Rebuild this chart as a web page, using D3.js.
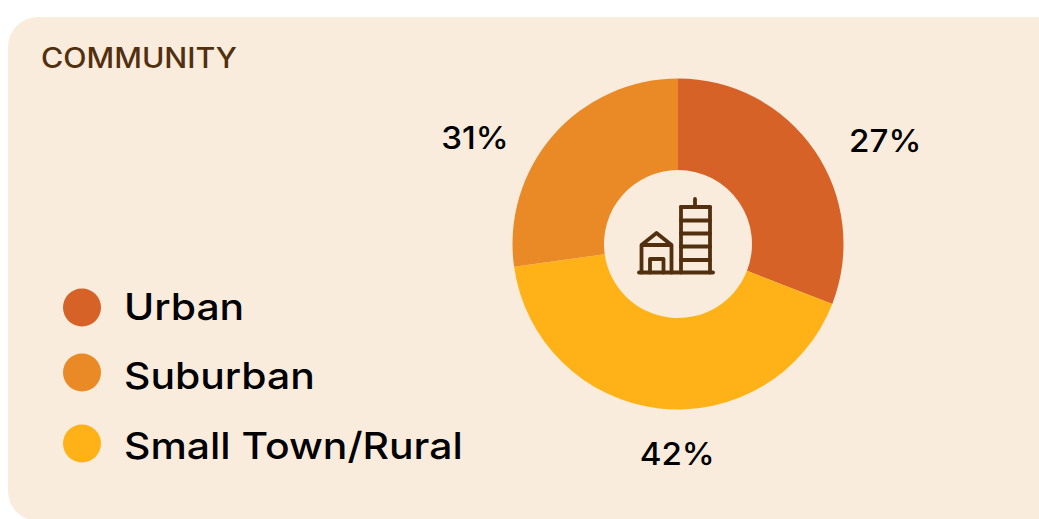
<!DOCTYPE html>
<meta charset="utf-8" />
<script src="https://d3js.org/d3.v7.min.js"></script>

<body style="margin:0;background:#fff;overflow:hidden">
<svg id="chart" width="1039" height="519" style="display:block"></svg>

<script>
/* data: the slice sizes do not follow the printed labels */
const categories = ["Urban", "Suburban", "Small Town/Rural"];
const sliceOrder = ["Urban", "Small Town/Rural", "Suburban"];
const sliceValues = [30.9, 41.9, 27.2];
const sliceLabels = ["27%", "42%", "31%"];
const colours = ["#d66227", "#ea8a26", "#ffb217"];

const font = "Inter, 'Open Sans', sans-serif";
const cx = 678, cy = 244, outerR = 165.5, innerR = 74;
const wide = 1.105;                 // no Montserrat here, so stretch Inter to its width

const colour = d3.scaleOrdinal(categories, colours);
const svg = d3.select("#chart");

/* card runs off the right edge */
svg.append("rect").attr("x", 8).attr("y", 17).attr("width", 1100).attr("height", 504)
  .attr("rx", 30).attr("fill", "#faecdd");

svg.append("text").attr("x", 41).attr("y", 68)
  .attr("font-family", font).attr("font-size", 28).attr("font-weight", 500)
  .attr("fill", "#52300f").attr("textLength", 196).attr("lengthAdjust", "spacingAndGlyphs")
  .text("COMMUNITY");

/* donut */
const pie = d3.pie().sort(null)(sliceValues);
const arc = d3.arc().innerRadius(innerR).outerRadius(outerR);
const g = svg.append("g").attr("transform", `translate(${cx},${cy})`);
g.selectAll("path").data(pie).join("path")
  .attr("d", arc)
  .attr("fill", (d, i) => colour(sliceOrder[i]));

/* percent labels sit round the ring, hand nudged from the centroid */
const labelArc = d3.arc().innerRadius(outerR + 48).outerRadius(outerR + 48);
const labelNudge = [[31, 17], [24, -2], [-42, 34]];
g.selectAll("text").data(pie).join("text")
  .attr("transform", (d, i) => {
    const c = labelArc.centroid(d);
    return `translate(${c[0] + labelNudge[i][0]},${c[1] + labelNudge[i][1]}) scale(1.07,1)`;
  })
  .attr("text-anchor", "middle").attr("dominant-baseline", "central")
  .attr("font-family", font).attr("font-size", 31).attr("font-weight", 500).attr("fill", "#000")
  .text((d, i) => sliceLabels[i]);

/* legend, rows are not quite evenly spaced in the original */
const dotY = [307.5, 372.5, 443.5], textY = [320, 389, 459];
const legend = svg.append("g").selectAll("g").data(categories).join("g");
legend.append("circle").attr("cx", 82).attr("cy", (d, i) => dotY[i]).attr("r", 19)
  .attr("fill", d => colour(d));
legend.append("text")
  .attr("transform", (d, i) => `translate(124,${textY[i]}) scale(${wide},1)`)
  .attr("font-family", font).attr("font-size", 37).attr("font-weight", 500).attr("fill", "#000")
  .text(d => d);

/* building icon */
const icon = svg.append("g").attr("transform", "translate(600,170)")
  .attr("fill", "none").attr("stroke", "#52300f").attr("stroke-width", 3.8)
  .attr("stroke-linecap", "round").attr("stroke-linejoin", "round");
icon.append("path").attr("d", "M39 102.500H113");
icon.append("path").attr("d", "M41.500 102.500V75L56.500 63L71.500 75V102.500M41.500 75H71.500");
icon.append("path").attr("d", "M50 102.500V89H63.500V102.500");
icon.append("path").attr("d", "M81 102.500V37H110V102.500");
icon.append("path").attr("d", "M81 37H110M81 50.500H110M81 63.500H110M81 76.500H110M81 90H110");
icon.append("path").attr("d", "M95 29V37");
</script>
</body>
